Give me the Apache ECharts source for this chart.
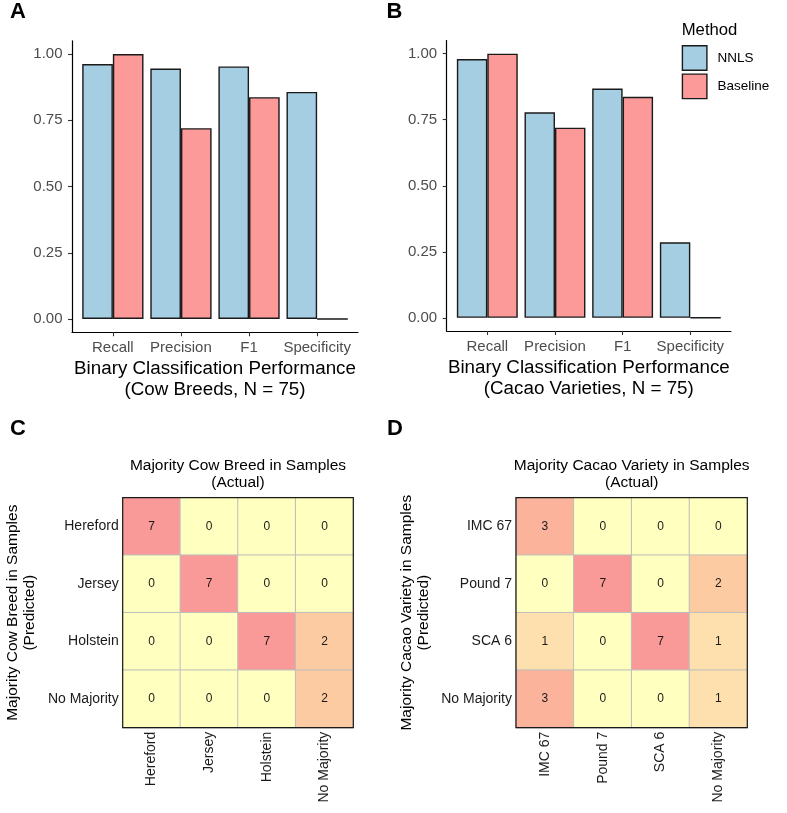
<!DOCTYPE html>
<html>
<head>
<meta charset="utf-8">
<script src="https://cdn.jsdelivr.net/npm/echarts@6/dist/echarts.min.js"></script>
<style>
  html, body { margin: 0; padding: 0; background: #fff; }
  #main { width: 787px; height: 813px; }
</style>
</head>
<body>
<div id="main"></div>
<script>
// bar panels (A: cow breeds, B: cacao varieties)
const metrics = ['Recall', 'Precision', 'F1', 'Specificity'];
const cowNNLS = [0.962, 0.945, 0.953, 0.857];
const cowBaseline = [1.0, 0.72, 0.837, 0];
const cacaoNNLS = [0.98, 0.778, 0.868, 0.286];
const cacaoBaseline = [1.0, 0.72, 0.837, 0];
const yTicks = [0, 0.25, 0.5, 0.75, 1];

// confusion matrices, rows = predicted, cols = actual
const cowLabels = ['Hereford', 'Jersey', 'Holstein', 'No Majority'];
const cowMatrix = [
  [7, 0, 0, 0],
  [0, 7, 0, 0],
  [0, 0, 7, 2],
  [0, 0, 0, 2]
];
const cacaoLabels = ['IMC 67', 'Pound 7', 'SCA 6', 'No Majority'];
const cacaoMatrix = [
  [3, 0, 0, 0],
  [0, 7, 0, 2],
  [1, 0, 7, 1],
  [3, 0, 0, 1]
];
const heatColors = ['#FFFFBF', '#FEE0AE', '#FDCBA1', '#FBB39C', '#FBAC9A', '#FBA69A', '#FAA099', '#FA9A98'];

const FONT = '"Liberation Sans", Arial, Helvetica, sans-serif';
const BLUE = '#A6CEE3';
const PINK = '#FB9A99';
const EDGE = '#1a1a1a';

let myChart = echarts.init(document.getElementById('main'));

function barXAxis(gi, title) {
  return {
    gridIndex: gi,
    type: 'value',
    min: 0.4,
    max: 4.6,
    splitLine: { show: false },
    axisLine: { onZero: false, lineStyle: { color: '#000', width: 1.2 } },
    axisTick: { customValues: [1, 2, 3, 4], length: 4, lineStyle: { color: '#333', width: 1.1 } },
    axisLabel: {
      customValues: [1, 2, 3, 4],
      formatter: v => metrics[v - 1],
      fontSize: 15, color: '#4d4d4d', margin: 8
    },
    name: title,
    nameLocation: 'middle',
    nameGap: 26,
    nameTextStyle: { fontSize: 18.8, lineHeight: 21, color: '#000' }
  };
}

function barYAxis(gi) {
  return {
    gridIndex: gi,
    type: 'value',
    min: -0.05,
    max: 1.05,
    splitLine: { show: false },
    axisLine: { show: true, onZero: false, lineStyle: { color: '#000', width: 1.2 } },
    axisTick: { show: true, customValues: yTicks, length: 4, lineStyle: { color: '#333', width: 1.1 } },
    axisLabel: {
      customValues: yTicks,
      formatter: v => v.toFixed(2),
      fontSize: 15, color: '#4d4d4d', margin: 9.5
    }
  };
}

function barSeries(name, gi, values, color) {
  return {
    type: 'bar',
    name: name,
    xAxisIndex: gi,
    yAxisIndex: gi,
    data: metrics.map((m, i) => [i + 1, values[i]]),
    barGap: '0%',
    barCategoryGap: '10%',
    itemStyle: { color: color, borderColor: EDGE, borderWidth: 1.4 },
    emphasis: { disabled: true }
  };
}

function heatXAxis(gi, labels) {
  return {
    gridIndex: gi,
    type: 'category',
    data: labels,
    axisLine: { show: false },
    axisTick: { show: false },
    splitLine: { show: false },
    axisLabel: { rotate: 90, interval: 0, fontSize: 14, color: '#1a1a1a', margin: 4 }
  };
}

function heatYAxis(gi, labels, title) {
  return {
    gridIndex: gi,
    type: 'category',
    data: labels,
    inverse: true,
    axisLine: { show: false },
    axisTick: { show: false },
    splitLine: { show: false },
    axisLabel: { interval: 0, fontSize: 14, color: '#1a1a1a', margin: 4 },
    name: title,
    nameLocation: 'middle',
    nameRotate: 90,
    nameGap: 84,
    nameTextStyle: { fontSize: 15.5, lineHeight: 17, color: '#000' }
  };
}

function heatSeries(gi, matrix) {
  return {
    type: 'heatmap',
    xAxisIndex: gi,
    yAxisIndex: gi,
    data: matrix.flatMap((row, r) => row.map((v, c) => [c, r, v])),
    label: { show: true, formatter: p => p.value[2], fontSize: 12, color: '#1a1a1a' },
    itemStyle: { borderColor: '#BEBEBE', borderWidth: 1 },
    emphasis: { disabled: true }
  };
}

function txt(text, x, y, size, opts) {
  return {
    type: 'text',
    x: x,
    y: y,
    style: Object.assign({
      text: text,
      fontSize: size,
      fontFamily: FONT,
      fill: '#000',
      textAlign: 'left',
      textVerticalAlign: 'middle'
    }, opts || {})
  };
}

myChart.setOption({
  animation: false,
  textStyle: { fontFamily: FONT },
  grid: [
    { left: 72, top: 40.75, width: 286, height: 291.5 },
    { left: 446.7, top: 40.5, width: 284.2, height: 290.5 },
    { left: 122.7, top: 497.7, width: 230.6, height: 230, show: true, borderColor: EDGE, borderWidth: 1.2, backgroundColor: 'transparent', z: 10 },
    { left: 516, top: 497.7, width: 231.3, height: 230, show: true, borderColor: EDGE, borderWidth: 1.2, backgroundColor: 'transparent', z: 10 }
  ],
  xAxis: [
    barXAxis(0, 'Binary Classification Performance\n(Cow Breeds, N = 75)'),
    barXAxis(1, 'Binary Classification Performance\n(Cacao Varieties, N = 75)'),
    heatXAxis(2, cowLabels),
    heatXAxis(3, cacaoLabels)
  ],
  yAxis: [
    barYAxis(0),
    barYAxis(1),
    heatYAxis(2, cowLabels, 'Majority Cow Breed in Samples\n(Predicted)'),
    heatYAxis(3, cacaoLabels, 'Majority Cacao Variety in Samples\n(Predicted)')
  ],
  legend: {
    data: ['NNLS', 'Baseline'],
    orient: 'vertical',
    left: 681.7,
    top: 45,
    padding: 0,
    itemWidth: 24.5,
    itemHeight: 24.5,
    itemGap: 2.5,
    icon: 'rect',
    selectedMode: false,
    itemStyle: { borderColor: EDGE, borderWidth: 1.4 },
    textStyle: { fontSize: 13.5, color: '#000', padding: [0, 0, 0, 5.5] }
  },
  visualMap: {
    type: 'continuous',
    show: false,
    min: 0,
    max: 7,
    dimension: 2,
    seriesIndex: [4, 5],
    inRange: { color: heatColors }
  },
  series: [
    barSeries('NNLS', 0, cowNNLS, BLUE),
    barSeries('Baseline', 0, cowBaseline, PINK),
    barSeries('NNLS', 1, cacaoNNLS, BLUE),
    barSeries('Baseline', 1, cacaoBaseline, PINK),
    heatSeries(2, cowMatrix),
    heatSeries(3, cacaoMatrix)
  ],
  graphic: [
    txt('A', 10, 12, 22, { fontWeight: 'bold' }),
    txt('B', 386.5, 12, 22, { fontWeight: 'bold' }),
    txt('C', 10, 428.5, 22, { fontWeight: 'bold' }),
    txt('D', 387, 428.5, 22, { fontWeight: 'bold' }),
    txt('Method', 681.7, 30, 16.7),
    txt('Majority Cow Breed in Samples\n(Actual)', 238, 474, 15.5, { textAlign: 'center', lineHeight: 17 }),
    txt('Majority Cacao Variety in Samples\n(Actual)', 631.7, 474, 15.5, { textAlign: 'center', lineHeight: 17 })
  ]
});
</script>
</body>
</html>
